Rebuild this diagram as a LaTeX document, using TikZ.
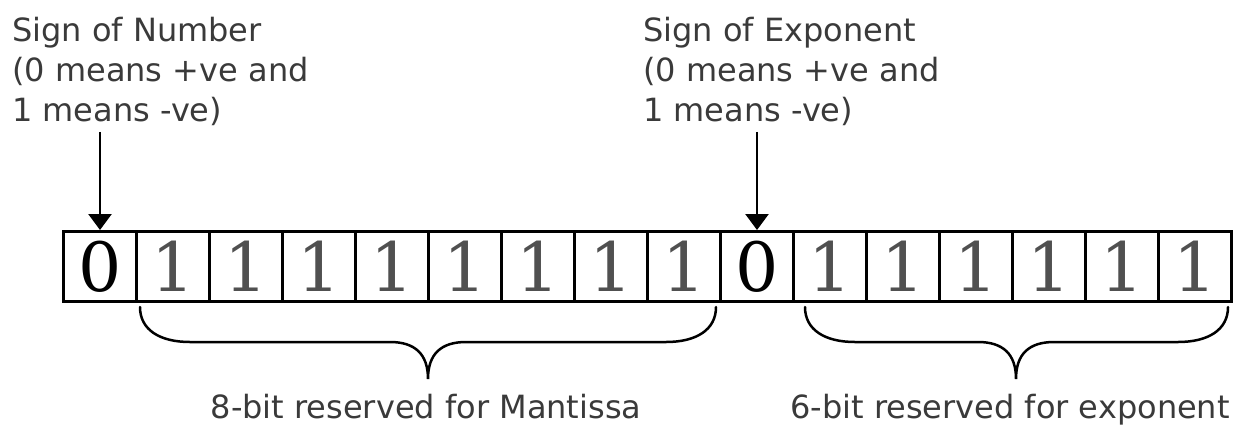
\documentclass[tikz,border=0pt]{standalone}
\usepackage{fontspec}
\setmainfont{DejaVu Sans}
\newfontfamily\digitfont{DejaVu Serif}
\usetikzlibrary{arrows.meta,calc}
\definecolor{txt}{HTML}{3A3A3A}
\definecolor{onegray}{HTML}{505050}
\begin{document}
\begin{tikzpicture}[x=1pt,y=-1pt,
  cell/.style={draw=black, line width=3pt, minimum width=73pt, minimum height=70pt,
    inner sep=0pt, anchor=north west, font=\digitfont\fontsize{68}{68}\selectfont},
  onecell/.style={cell, text=onegray},
  zerocell/.style={cell, text=black},
  lab/.style={font=\fontsize{32}{40}\selectfont, text=txt, align=left, inner sep=0pt},
  arr/.style={line width=2.5pt, draw=black, -{Triangle[width=23pt,length=16pt]}},
  bracepath/.style={line width=2.5pt, draw=black, line cap=round}]
\useasboundingbox (0,0) rectangle (1247,424);
\fill[white] (0,0) rectangle (1247,424);
% cells
\foreach \i/\s/\d in {0/zerocell/0,1/onecell/1,2/onecell/1,3/onecell/1,4/onecell/1,
  5/onecell/1,6/onecell/1,7/onecell/1,8/onecell/1,9/zerocell/0,10/onecell/1,
  11/onecell/1,12/onecell/1,13/onecell/1,14/onecell/1,15/onecell/1}
  \node[\s] (c\i) at ({62+73*\i},230) {\d};
% top labels
\node[lab, anchor=north west] (lab1) at (12,17) {Sign of Number\\(0 means +ve and\\1 means -ve)};
\node[lab, anchor=north west] (lab2) at (643,17) {Sign of Exponent\\(0 means +ve and\\1 means -ve)};
\draw[arr] ([yshift=-6pt]lab1.south -| c0.north) -- (c0.north);
\draw[arr] ([yshift=-6pt]lab2.south -| c9.north) -- (c9.north);
% braces
\draw[bracepath] (140,307) .. controls (140,330) and (160,342) .. (190,342)
  -- (390,342) .. controls (415,342) and (428,354) .. (428,379)
  .. controls (428,354) and (441,342) .. (466,342)
  -- (666,342) .. controls (696,342) and (716,330) .. (716,307);
\draw[bracepath] (805,307) .. controls (805,330) and (825,342) .. (855,342)
  -- (978,342) .. controls (1003,342) and (1016,354) .. (1016,379)
  .. controls (1016,354) and (1029,342) .. (1054,342)
  -- (1178,342) .. controls (1208,342) and (1228,330) .. (1228,307);
% bottom labels
\node[lab, anchor=base] (lab3) at (426,418) {8-bit reserved for Mantissa};
\node[lab, anchor=base] (lab4) at (1010,418) {6-bit reserved for exponent};
\end{tikzpicture}
\end{document}
